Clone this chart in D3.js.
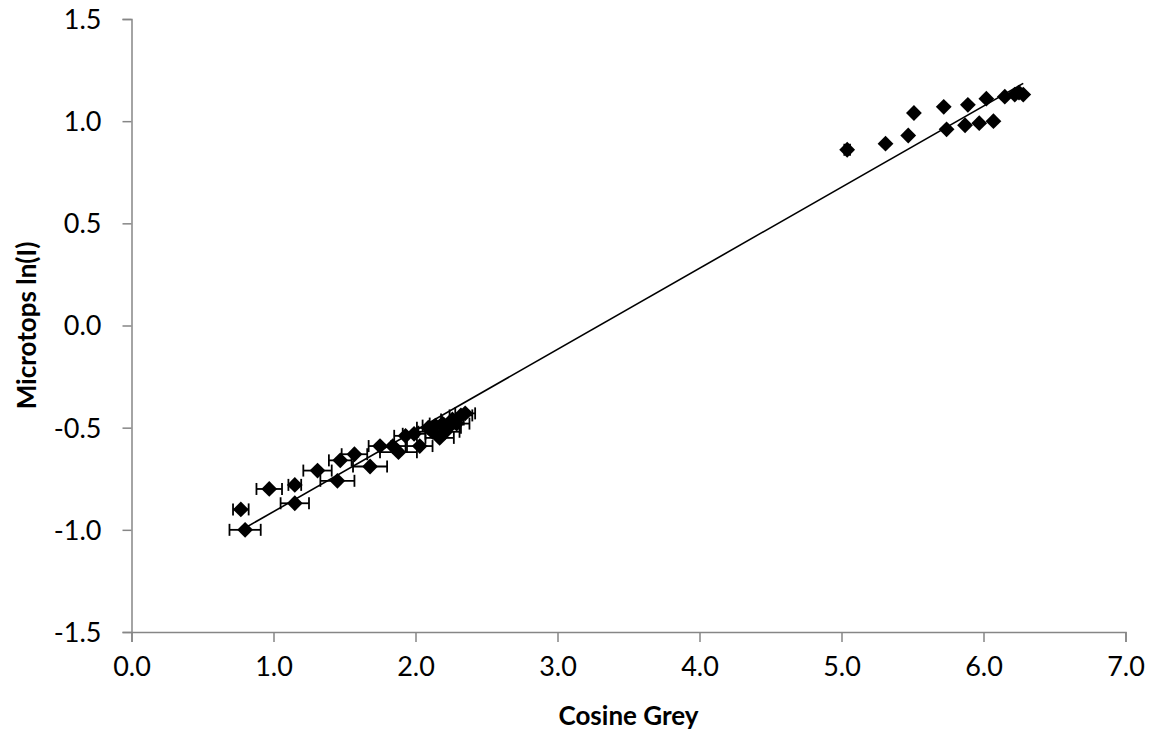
<!DOCTYPE html>
<html lang="en">
<head>
    <meta charset="UTF-8">
    <title>Microtops vs Cosine Grey</title>
    <script src="https://cdn.jsdelivr.net/npm/d3@7"></script>
    <style>
        body { margin: 0; background: #fff; }
        text { font-family: Lato, "Open Sans", sans-serif; }
    </style>
</head>
<body>
<script>
    // cosine grey (x), microtops ln(I) (y), x error (+/-)
    let cosineGrey = [0.80, 0.77, 0.97, 1.15, 1.15, 1.31, 1.45, 1.47, 1.57, 1.68, 1.75, 1.84, 1.88, 1.93, 1.99, 2.03,
                      2.09, 2.12, 2.14, 2.17, 2.19, 2.21, 2.23, 2.26, 2.29, 2.32, 2.35,
                      5.04, 5.31, 5.47, 5.51, 5.72, 5.74, 5.87, 5.89, 5.97, 6.02, 6.07, 6.15, 6.22, 6.25, 6.28];
    let microtops = [-1.00, -0.90, -0.80, -0.78, -0.87, -0.71, -0.76, -0.66, -0.63, -0.69, -0.59, -0.59, -0.62, -0.54, -0.53, -0.59,
                     -0.50, -0.52, -0.49, -0.55, -0.48, -0.52, -0.50, -0.46, -0.48, -0.44, -0.43,
                     0.86, 0.89, 0.93, 1.04, 1.07, 0.96, 0.98, 1.08, 0.99, 1.11, 1.00, 1.12, 1.13, 1.14, 1.13];
    let xErr = [0.11, 0.055, 0.09, 0.045, 0.10, 0.10, 0.12, 0.08, 0.09, 0.12, 0.08, 0.09, 0.13, 0.08, 0.08, 0.09,
                0.08, 0.10, 0.09, 0.10, 0.09, 0.10, 0.09, 0.08, 0.09, 0.08, 0.07,
                0.02, 0, 0, 0, 0, 0, 0, 0, 0, 0, 0, 0, 0, 0, 0];

    let xTicks = [0, 1, 2, 3, 4, 5, 6, 7];
    let yTicks = [-1.5, -1.0, -0.5, 0, 0.5, 1.0, 1.5];

    // linear trendline
    let trendSlope = 0.397;
    let trendIntercept = -1.308;

    let width = 1165, height = 740;
    let margin = { left: 131.5, right: 39.5, top: 19, bottom: 108 };

    let svg = d3.select('body').append('svg')
        .attr('width', width)
        .attr('height', height);

    let x = d3.scaleLinear().domain([0, 7]).range([margin.left, width - margin.right]);
    let y = d3.scaleLinear().domain([-1.5, 1.5]).range([height - margin.bottom, margin.top]);

    let axisColor = '#868686';

    // x axis
    let gx = svg.append('g')
        .attr('transform', 'translate(0,' + y(-1.5) + ')')
        .call(d3.axisBottom(x).tickValues(xTicks).tickSize(10).tickPadding(15).tickFormat(d3.format('.1f')));
    // y axis
    let gy = svg.append('g')
        .attr('transform', 'translate(' + x(0) + ',0)')
        .call(d3.axisLeft(y).tickValues(yTicks).tickSize(9).tickPadding(21).tickFormat(d => d3.format('.1f')(d).replace('−', '-')));

    [gx, gy].forEach(g => {
        g.select('.domain').attr('stroke', axisColor).attr('stroke-width', 1.5);
        g.selectAll('.tick line').attr('stroke', axisColor).attr('stroke-width', 1.5);
        g.selectAll('.tick text').attr('fill', '#000').style('font-size', '27px').style('font-family', 'Lato, sans-serif');
    });
    gy.selectAll('.tick text').attr('dy', '0.35em');

    // axis titles
    svg.append('text')
        .attr('x', (x(0) + x(7)) / 2)
        .attr('y', 725)
        .attr('text-anchor', 'middle')
        .style('font-size', '26px')
        .style('font-weight', 'bold')
        .text('Cosine Grey');

    svg.append('text')
        .attr('transform', 'translate(36,' + y(0) + ') rotate(-90)')
        .attr('text-anchor', 'middle')
        .style('font-size', '26px')
        .style('font-weight', 'bold')
        .text('Microtops ln(I)');

    let points = cosineGrey.map((d, i) => ({ x: d, y: microtops[i], e: xErr[i] }));

    // trendline
    let xMin = d3.min(cosineGrey), xMax = d3.max(cosineGrey);
    svg.append('line')
        .attr('x1', x(xMin)).attr('y1', y(trendIntercept + trendSlope * xMin))
        .attr('x2', x(xMax)).attr('y2', y(trendIntercept + trendSlope * xMax))
        .attr('stroke', '#000')
        .attr('stroke-width', 1.6);

    // error bars
    let eb = svg.append('g').attr('stroke', '#000').attr('stroke-width', 1.8)
        .selectAll('g').data(points.filter(d => d.e > 0)).enter().append('g');
    eb.append('line')
        .attr('x1', d => x(d.x - d.e)).attr('x2', d => x(d.x + d.e))
        .attr('y1', d => y(d.y)).attr('y2', d => y(d.y));
    eb.append('line')
        .attr('x1', d => x(d.x - d.e)).attr('x2', d => x(d.x - d.e))
        .attr('y1', d => y(d.y) - 6).attr('y2', d => y(d.y) + 6);
    eb.append('line')
        .attr('x1', d => x(d.x + d.e)).attr('x2', d => x(d.x + d.e))
        .attr('y1', d => y(d.y) - 6).attr('y2', d => y(d.y) + 6);

    // diamond markers
    let diamond = d3.symbol().type(d3.symbolSquare).size(125);
    svg.append('g').selectAll('path').data(points).enter().append('path')
        .attr('d', diamond)
        .attr('transform', d => 'translate(' + x(d.x) + ',' + y(d.y) + ') rotate(45)')
        .attr('fill', '#000');
</script>
</body>
</html>
